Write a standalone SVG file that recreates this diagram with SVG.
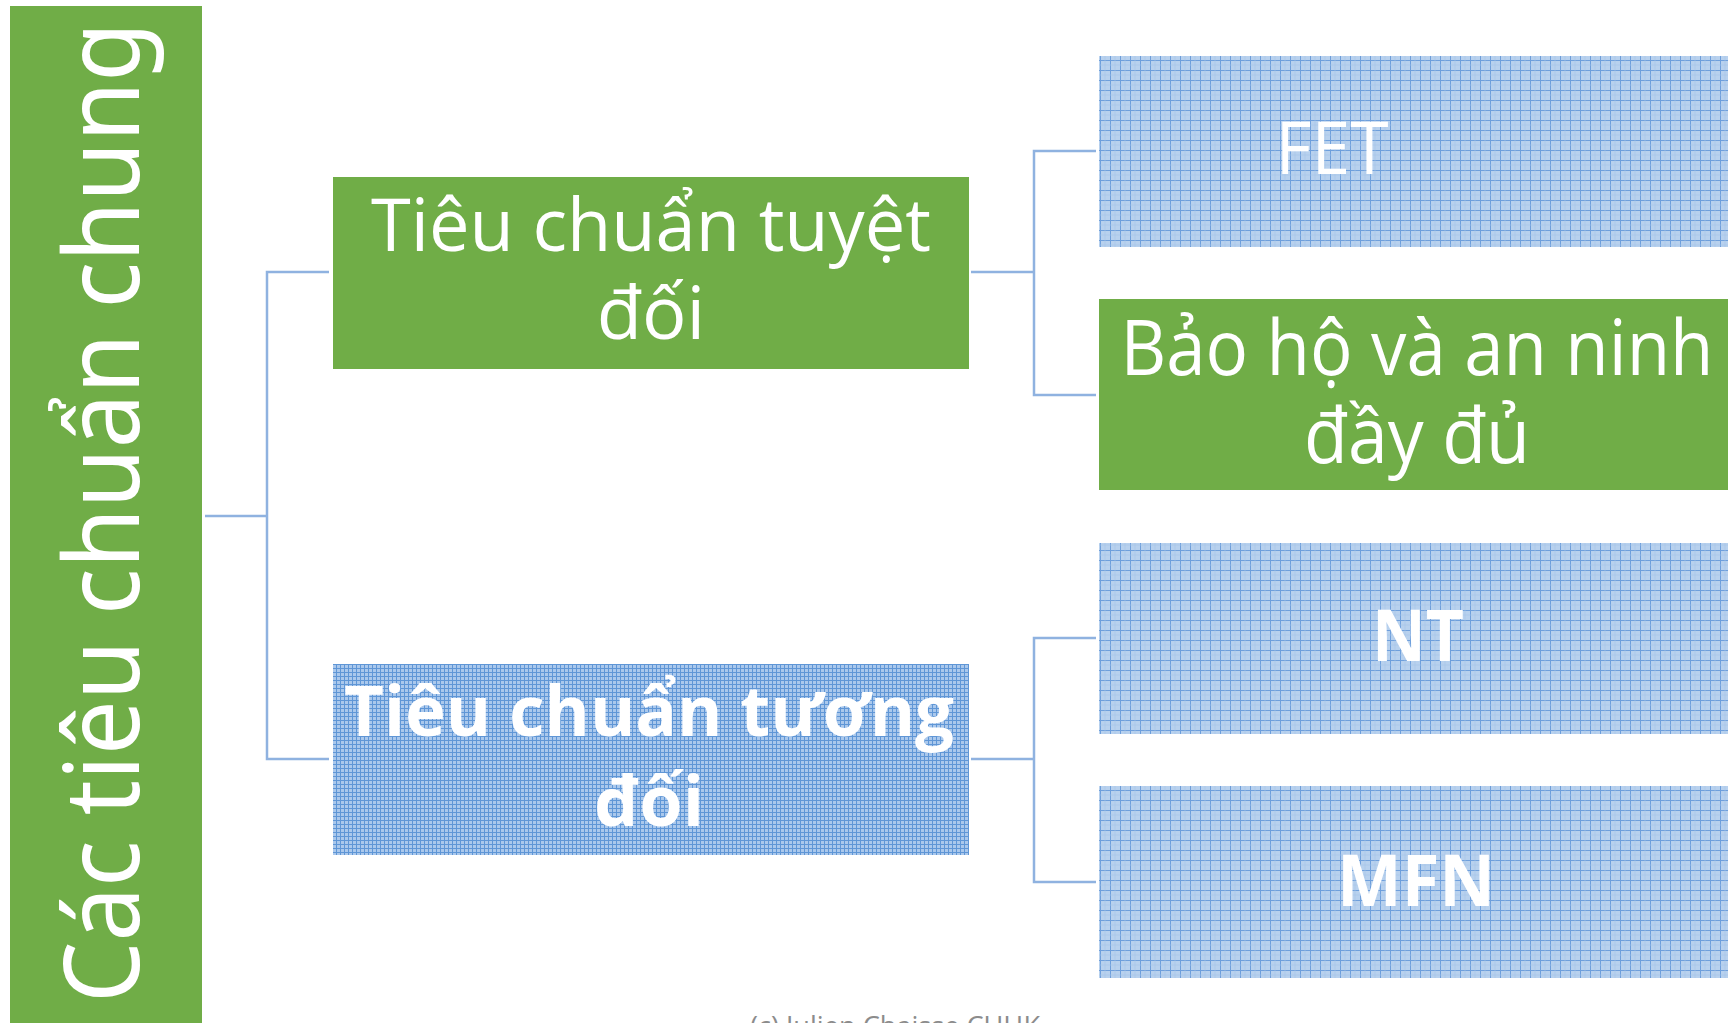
<svg xmlns="http://www.w3.org/2000/svg" width="1728" height="1023" viewBox="0 0 1728 1023">
<defs>
<style>
.green{fill:#70ad47}
.grid{fill:url(#grid10)}
.fine{fill:url(#grid4)}
.lbl{fill:#ffffff;font-family:"Open Sans","Noto Sans","Liberation Sans",sans-serif;text-anchor:middle}
.bold{font-weight:bold}
.conn{fill:none;stroke:#8fb2e0;stroke-width:2.5}
</style>
<pattern id="grid10" width="10" height="10" patternUnits="userSpaceOnUse">
<rect width="10" height="10" fill="#b8d1ee"/>
<path d="M0 0.5H10M0.5 0V10" stroke="#6e9fdc" stroke-width="1"/>
<path d="M5 0V10M0 5H10" stroke="#a4c2e8" stroke-width="0.6"/>
</pattern>
<pattern id="grid4" width="4" height="4" patternUnits="userSpaceOnUse">
<rect width="4" height="4" fill="#aac8ec"/>
<path d="M0 0.5H4M0.5 0V4" stroke="#5f96d6" stroke-width="1"/>
</pattern>
</defs>
<rect width="1728" height="1023" fill="#ffffff"/>

<g id="connectors">
<polyline class="conn" points="205,516 267,516"/>
<polyline class="conn" points="329,272 267,272 267,759 329,759"/>
<polyline class="conn" points="971,272 1034,272"/>
<polyline class="conn" points="1096,151 1034,151 1034,395 1096,395"/>
<polyline class="conn" points="971,759 1034,759"/>
<polyline class="conn" points="1096,638 1034,638 1034,882 1096,882"/>
</g>

<g id="root">
<rect class="green" x="10" y="6" width="192" height="1017"/>
<text transform="translate(139,1003) rotate(-90)" x="0" y="0" font-family="'Noto Sans','DejaVu Sans',sans-serif" font-size="104" fill="#ffffff" textLength="981" lengthAdjust="spacingAndGlyphs">Các tiêu chuẩn chung</text>
</g>

<g id="node-tuyet-doi">
<rect class="green" x="333" y="177" width="636" height="192"/>
<text class="lbl" x="651" y="251" font-size="74" textLength="560" lengthAdjust="spacingAndGlyphs">Tiêu chuẩn tuyệt</text>
<text class="lbl" x="651" y="339" font-size="74">đối</text>
</g>

<g id="node-tuong-doi">
<rect class="fine" x="333" y="664" width="636" height="191"/>
<text class="lbl bold" x="649" y="736" font-size="70" textLength="610" lengthAdjust="spacingAndGlyphs">Tiêu chuẩn tương</text>
<text class="lbl bold" x="649" y="826" font-size="70">đối</text>
</g>

<g id="node-fet">
<rect class="grid" x="1099" y="56" width="636" height="191"/>
<text class="lbl" x="1332" y="174" font-size="74" textLength="113" lengthAdjust="spacingAndGlyphs">FET</text>
</g>

<g id="node-bao-ho">
<rect class="green" x="1099" y="299" width="636" height="191"/>
<text class="lbl" x="1417" y="375" font-size="76" textLength="593" lengthAdjust="spacingAndGlyphs">Bảo hộ và an ninh</text>
<text class="lbl" x="1417" y="463" font-size="76" textLength="226" lengthAdjust="spacingAndGlyphs">đầy đủ</text>
</g>

<g id="node-nt">
<rect class="grid" x="1099" y="543" width="636" height="191"/>
<text class="lbl bold" x="1418" y="661" font-size="72" textLength="92" lengthAdjust="spacingAndGlyphs">NT</text>
</g>

<g id="node-mfn">
<rect class="grid" x="1099" y="786" width="636" height="192"/>
<text class="lbl bold" x="1416" y="906" font-size="72" textLength="158" lengthAdjust="spacingAndGlyphs">MFN</text>
</g>

<text x="895" y="1036" font-family="'Open Sans','Liberation Sans',sans-serif" font-size="28" fill="#8c8c8c" text-anchor="middle" textLength="290" lengthAdjust="spacingAndGlyphs">(c) Julien Chaisse CUHK</text>
</svg>
